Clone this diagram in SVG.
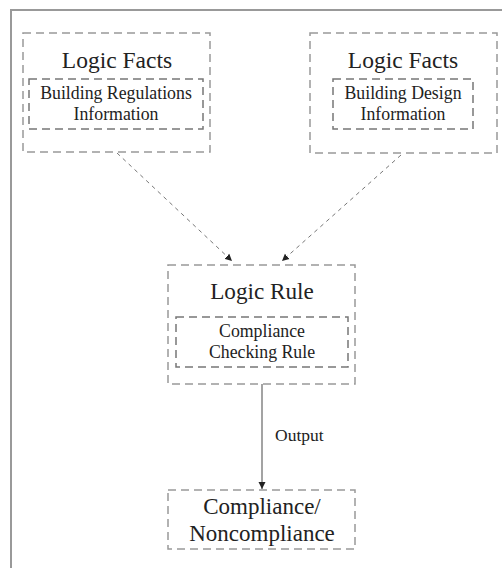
<svg xmlns="http://www.w3.org/2000/svg" width="502" height="568" viewBox="0 0 502 568">
<defs>
<style>
.t{font-family:"Liberation Serif","Times New Roman",serif;fill:#222;text-anchor:middle}
.ob{fill:none;stroke:#999;stroke-width:1.5;stroke-dasharray:8 5}
.ib{fill:none;stroke:#777;stroke-width:1.5;stroke-dasharray:8 5}
.dc{fill:none;stroke:#777;stroke-width:1;stroke-dasharray:4 4}
.sc{fill:none;stroke:#666;stroke-width:1.2}
</style>
<marker id="ah" markerWidth="8" markerHeight="8" refX="7" refY="4" orient="auto" markerUnits="userSpaceOnUse">
<path d="M0,0.5 L7,4 L0,7.5 Z" fill="#222"/>
</marker>
</defs>
<rect width="502" height="568" fill="#fff"/>
<path d="M11,568 V10 H502" fill="none" stroke="#999" stroke-width="2"/>
<g id="facts1">
<rect class="ob" x="23" y="33" width="187" height="119"/>
<text class="t" x="117" y="68" font-size="23.5">Logic Facts</text>
<rect class="ib" x="29" y="79" width="174" height="50"/>
<text class="t" x="116" y="99" font-size="17.8">Building Regulations</text>
<text class="t" x="116" y="120" font-size="17.8">Information</text>
</g>
<g id="facts2">
<rect class="ob" x="310" y="33" width="187" height="120"/>
<text class="t" x="403" y="68" font-size="23.5">Logic Facts</text>
<rect class="ib" x="333" y="79" width="140" height="50"/>
<text class="t" x="403" y="99" font-size="17.8">Building Design</text>
<text class="t" x="403" y="120" font-size="17.8">Information</text>
</g>
<g id="rule">
<rect class="ob" x="168" y="265" width="187" height="119"/>
<text class="t" x="262" y="299" font-size="23.2">Logic Rule</text>
<rect class="ib" x="176" y="317" width="172" height="50"/>
<text class="t" x="262" y="337" font-size="17.8">Compliance</text>
<text class="t" x="262" y="358" font-size="17.8">Checking Rule</text>
</g>
<g id="result">
<rect class="ob" x="168" y="490" width="187" height="59"/>
<text class="t" x="262" y="514" font-size="23">Compliance/</text>
<text class="t" x="262" y="541" font-size="23">Noncompliance</text>
</g>
<g id="connectors">
<line class="dc" x1="117" y1="153" x2="232" y2="261" marker-end="url(#ah)"/>
<line class="dc" x1="401" y1="155" x2="282" y2="261" marker-end="url(#ah)"/>
<line class="sc" x1="262" y1="384" x2="262" y2="489" marker-end="url(#ah)"/>
<text x="275" y="441" font-size="17.5" font-family="Liberation Serif, serif" fill="#222">Output</text>
</g>
</svg>
